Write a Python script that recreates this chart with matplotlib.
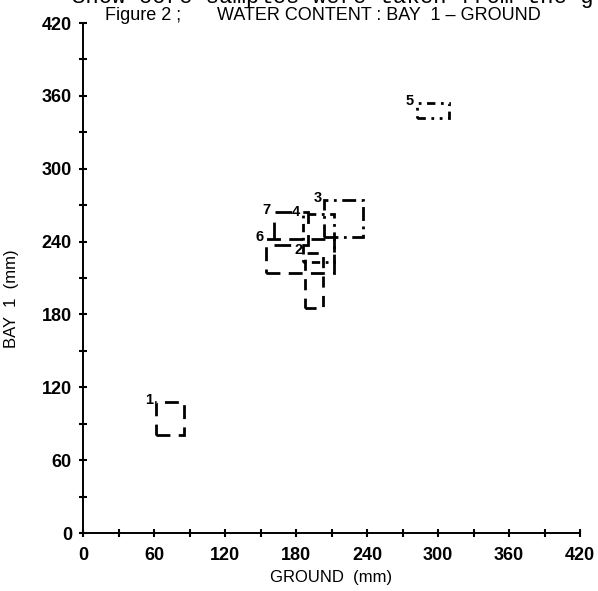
import matplotlib
matplotlib.use('Agg')
import matplotlib.pyplot as plt
from matplotlib.patches import Rectangle

# ranges of water content (mm) for each site: ground (x) vs bay 1 (y)
sites = ['1', '2', '3', '4', '5', '6', '7']
ground_lo = [62, 188, 204, 186, 282, 155, 161]
ground_hi = [85, 203, 237, 212, 309, 212, 190]
bay_lo = [81, 185, 244, 223, 342, 214, 237]
bay_hi = [108, 231, 274, 263, 354, 242, 264]
dashes = [(5, 3), (4, 3), (5, 2, 1, 2), (1, 2, 3, 2), (3, 2, 1, 2, 1, 2), (5, 3), (6, 4)]

ticks_major = [0, 60, 120, 180, 240, 300, 360, 420]
ticks_minor = [30, 90, 150, 210, 270, 330, 390]

fig = plt.figure(figsize=(5.98, 5.91), dpi=100)
ax = fig.add_axes([0.1388, 0.0981, 0.8311, 0.8629])

for i, s in enumerate(sites):
    w = ground_hi[i] - ground_lo[i]
    h = bay_hi[i] - bay_lo[i]
    r = Rectangle((ground_lo[i], bay_lo[i]), w, h, fill=False, edgecolor='black',
                  linewidth=2.0, linestyle=(0, dashes[i]))
    ax.add_patch(r)
    ax.annotate(s, (ground_lo[i], bay_hi[i]), xytext=(-2, 1.5), textcoords='offset points',
                ha='right', va='center', fontsize=10.5, fontweight='bold',
                family='Liberation Sans')

ax.set_xlim(0, 420)
ax.set_ylim(0, 420)
ax.spines['top'].set_visible(False)
ax.spines['right'].set_visible(False)
ax.spines['left'].set_linewidth(1.4)
ax.spines['bottom'].set_linewidth(1.4)

ax.set_xticks(ticks_major)
ax.set_yticks(ticks_major)
ax.set_xticks(ticks_minor, minor=True)
ax.set_yticks(ticks_minor, minor=True)
ax.tick_params(which='both', direction='inout', length=6, width=1.5)
ax.tick_params(axis='x', pad=7)
ax.tick_params(axis='y', pad=5)
for lab in ax.get_xticklabels() + ax.get_yticklabels():
    lab.set_family('Liberation Sans')
    lab.set_fontweight('bold')
    lab.set_fontsize(13)

ax.set_xlabel('GROUND  (mm)', fontsize=12, family='Liberation Sans')
ax.xaxis.set_label_coords(0.5, -0.072)
ax.set_ylabel('BAY  1  (mm)', fontsize=12, family='Liberation Sans')
ax.yaxis.set_label_coords(-0.128, 0.46)

fig.text(105 / 598, 1 - 16 / 591, 'Figure 2 ;', fontsize=13,
         family='Liberation Sans', ha='left', va='center')
fig.text(217 / 598, 1 - 16 / 591, 'WATER CONTENT : BAY  1 \u2013 GROUND', fontsize=13,
         family='Liberation Sans', ha='left', va='center')
# line of body text cut off at the top of the scan
fig.text(72 / 598, 1 - 3 / 591, 'Snow core samples were taken from the g',
         fontsize=16, family='Liberation Mono', ha='left', va='baseline')

plt.savefig('out.png', dpi=100)
